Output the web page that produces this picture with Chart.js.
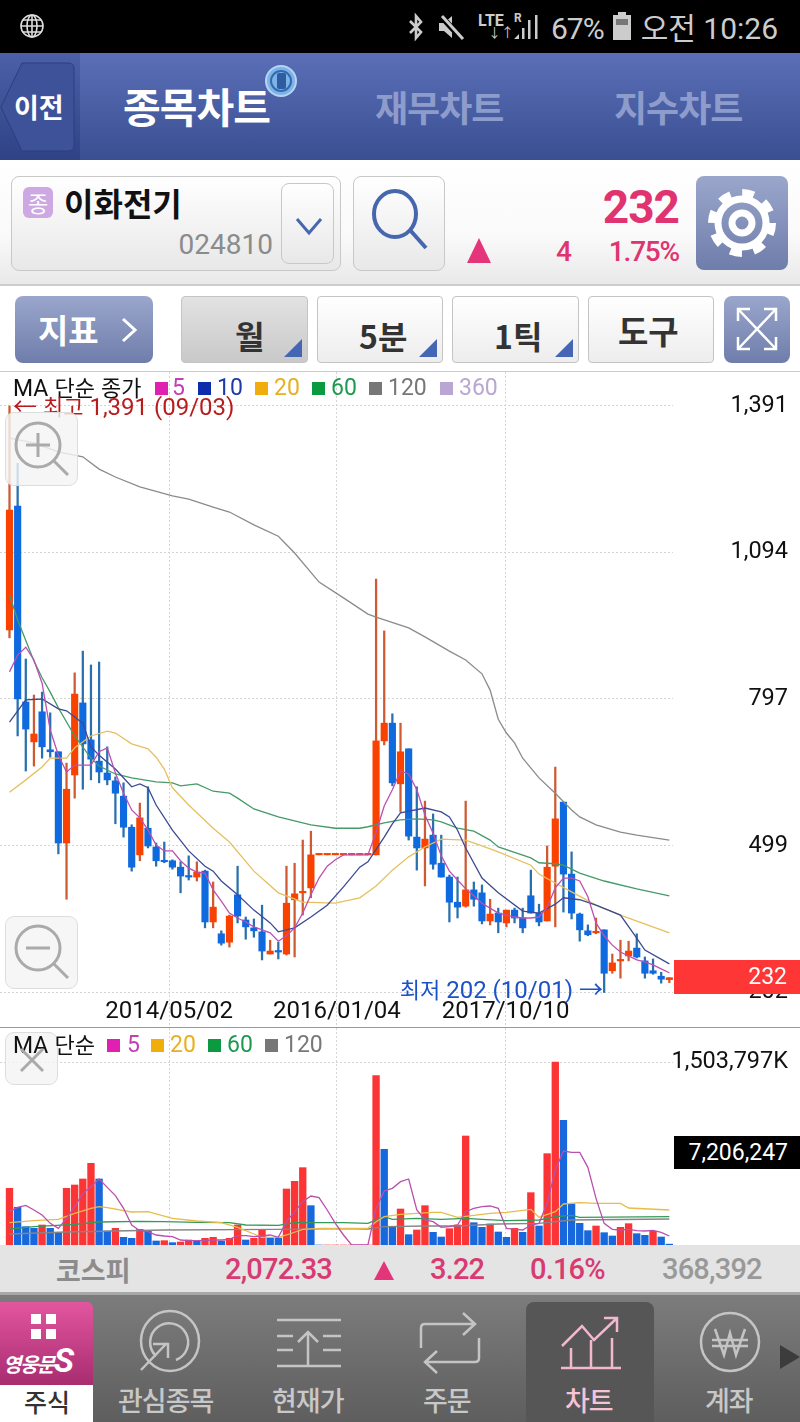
<!DOCTYPE html>
<html lang="ko">
<head>
<meta charset="utf-8">
<title>이화전기 월봉 차트</title>
<script src="https://cdn.jsdelivr.net/npm/chart.js@4"></script>
<style>
html,body{margin:0;padding:0;background:#fff}
body{position:relative;width:800px;height:1422px;overflow:hidden;font-family:Roboto,"Noto Sans CJK KR",sans-serif}
.b{position:absolute;box-sizing:border-box}
.t{position:absolute;white-space:nowrap;transform:translateY(-50%);line-height:1.1}
.k{font-family:"Noto Sans CJK KR",sans-serif}
.bold{font-weight:700}
.btn{background:linear-gradient(#fff,#e8e8e8);border:1px solid #c8c8c8;border-radius:8px}
.tool{background:linear-gradient(#fff,#ededed);border:1px solid #c4c4c4;border-radius:4px;top:296px;height:67px}
.blue{background:linear-gradient(#9aa6cb,#6f7dab);border-radius:8px}
.tri{position:absolute;width:0;height:0;border-left:18px solid transparent;border-bottom:18px solid #4565b5}
.sq{position:absolute;width:13px;height:13px}
canvas{position:absolute;left:0;display:block}
svg{position:absolute;overflow:visible}
.zoomBtn{background:rgba(244,244,244,.82);border:1px solid #ddd;border-radius:9px;z-index:3}
.nav{color:#c8c8c8;font-size:28px;font-weight:500}
</style>
</head>
<body>
<!-- status bar -->
<div class="b" style="left:0;top:0;width:800px;height:53px;background:#000"></div>
<svg style="left:20px;top:14px" width="24" height="24" viewBox="0 0 24 24" fill="none" stroke="#ddd" stroke-width="1.6"><circle cx="12" cy="12" r="11"/><ellipse cx="12" cy="12" rx="5" ry="11"/><path d="M1 12h22M3 6h18M3 18h18M12 1v22"/></svg>
<svg style="left:407px;top:13px" width="18" height="28" viewBox="0 0 18 28" fill="none" stroke="#ccc" stroke-width="2.6"><path d="M3 8l11 11-5 6V3l5 6L3 20"/></svg>
<svg style="left:437px;top:13px" width="28" height="28" viewBox="0 0 28 28"><path d="M2 10h5l8-7v22l-8-7H2z" fill="#ccc"/><path d="M3 2l22 24" stroke="#000" stroke-width="6"/><path d="M5 3l21 23" stroke="#ccc" stroke-width="3"/></svg>
<div class="t bold" style="left:478px;top:21px;font-size:16px;color:#ccc">LTE</div>
<div class="t" style="left:488px;top:33px;font-size:13px;color:#ccc">↓↑</div>
<div class="t bold" style="left:514px;top:19px;font-size:12px;color:#ccc">R</div>
<svg style="left:514px;top:14px" width="28" height="26" viewBox="0 0 28 26" fill="#ccc"><path d="M0 25l5-5v5zM8 25V14h2.500v11zM14 25V6h2.500v19zM21 25V1h2.500v24z"/></svg>
<div class="t" style="left:551px;top:28px;font-size:30px;color:#ccc;letter-spacing:-1px">67%</div>
<svg style="left:612px;top:12px" width="20" height="28" viewBox="0 0 20 28"><path d="M6 0h8v3h5v25H1V3h5z" fill="#ccc"/><rect x="4" y="7" width="12" height="6" fill="#777"/></svg>
<div class="t" style="right:22px;top:27px;font-size:30px;color:#ccc"><span class="k">오전</span> 10:26</div>

<!-- header -->
<div class="b" style="left:0;top:53px;width:800px;height:107px;background:linear-gradient(#5b6fb8,#3a4e91)"></div>
<div class="b" style="left:0;top:53px;width:80px;height:107px;background:linear-gradient(#4b60a8,#2f4285)"></div>
<svg style="left:0;top:62px" width="76" height="90" viewBox="0 0 76 90"><path d="M22 1h46q6 0 6 6v76q0 6-6 6H22L1 45z" fill="#3e5299" stroke="#2d3e7e"/></svg>
<div class="t k bold" style="left:14px;top:107px;font-size:27px;color:#fff">이전</div>
<div class="t k bold" style="left:123px;top:106px;font-size:41px;color:#fff;letter-spacing:-1px">종목차트</div>
<svg style="left:265px;top:65px" width="32" height="32" viewBox="0 0 32 32"><circle cx="16" cy="16" r="15" fill="#7fb3e6" stroke="#b5d6f2" stroke-width="2"/><circle cx="16" cy="16" r="10" fill="none" stroke="#2f6bb0" stroke-width="2"/><rect x="12" y="8" width="9" height="16" rx="2" fill="#2f5ba0"/></svg>
<div class="t k bold" style="left:375px;top:107px;font-size:36px;color:#8e9ccc;letter-spacing:-1px">재무차트</div>
<div class="t k bold" style="left:614px;top:107px;font-size:36px;color:#8e9ccc;letter-spacing:-1px">지수차트</div>

<!-- stock row -->
<div class="b" style="left:0;top:160px;width:800px;height:126px;background:linear-gradient(#fff,#fafafa 60%,#e9e9e9);border-bottom:2px solid #ccc"></div>
<div class="b btn" style="left:11px;top:176px;width:330px;height:95px"></div>
<div class="b k" style="left:23px;top:187px;width:30px;height:31px;border-radius:6px;background:#cda8e2;color:#fff;font-size:22px;text-align:center;line-height:31px">종</div>
<div class="t k bold" style="left:64px;top:203px;font-size:32px;color:#111">이화전기</div>
<div class="t" style="right:527px;top:245px;font-size:28px;color:#8b8b8b">024810</div>
<div class="b btn" style="left:281px;top:183px;width:53px;height:81px"></div>
<svg style="left:295px;top:217px" width="28" height="20" viewBox="0 0 28 20" fill="none" stroke="#4666ae" stroke-width="3"><path d="M2 2l12 14L26 2"/></svg>
<div class="b btn" style="left:353px;top:176px;width:92px;height:95px"></div>
<svg style="left:370px;top:190px" width="58" height="60" viewBox="0 0 58 60" fill="none" stroke="#4666ae" stroke-width="4"><ellipse cx="25" cy="24" rx="21" ry="23"/><path d="M40 40l16 18"/></svg>
<div class="t bold" style="right:121px;top:207px;font-size:46px;color:#e0336f;letter-spacing:-1px">232</div>
<svg style="left:467px;top:238px" width="24" height="25" viewBox="0 0 24 25"><path d="M12 0l12 25H0z" fill="#e5357a"/></svg>
<div class="t" style="left:556px;top:252px;font-size:28px;font-weight:500;color:#e0336f">4</div>
<div class="t" style="right:121px;top:252px;font-size:28px;font-weight:500;color:#e0336f;letter-spacing:-1.200px">1.75%</div>
<div class="b blue" style="left:696px;top:176px;width:92px;height:94px"></div>
<svg style="left:706px;top:186px" width="72" height="74" viewBox="0 0 72 74" fill="none" stroke="#fff"><circle cx="36" cy="37" r="30" stroke-width="8" stroke-dasharray="11.800 11.760"/><circle cx="36" cy="37" r="24" stroke-width="7"/><circle cx="36" cy="37" r="10" stroke-width="7"/></svg>

<!-- tool row -->
<div class="b blue" style="left:15px;top:296px;width:138px;height:67px"></div>
<div class="t k bold" style="left:38px;top:329px;font-size:33px;color:#fff">지표</div>
<svg style="left:121px;top:317px" width="16" height="26" viewBox="0 0 16 26" fill="none" stroke="#fff" stroke-width="3"><path d="M2 2l12 11L2 24"/></svg>
<div class="b tool" style="left:181px;width:127px;background:linear-gradient(#e2e2e2,#c9c9c9)"></div>
<div class="t k bold" style="left:235px;top:336px;font-size:32px;color:#333">월</div>
<div class="tri" style="left:284px;top:339px"></div>
<div class="b tool" style="left:317px;width:126px"></div>
<div class="t k bold" style="left:359px;top:336px;font-size:32px;color:#333">5분</div>
<div class="tri" style="left:419px;top:339px"></div>
<div class="b tool" style="left:452px;width:127px"></div>
<div class="t k bold" style="left:494px;top:336px;font-size:32px;color:#333">1틱</div>
<div class="tri" style="left:555px;top:339px"></div>
<div class="b tool" style="left:588px;width:126px"></div>
<div class="t k bold" style="left:618px;top:330px;font-size:33px;color:#333">도구</div>
<div class="b blue" style="left:724px;top:296px;width:66px;height:67px"></div>
<svg style="left:736px;top:307px" width="42" height="44" viewBox="0 0 42 44" fill="none" stroke="#fff" stroke-width="2.500"><path d="M2 14V2h12M28 2h12v12M40 30v12H28M14 42H2V30M2 2l38 40M40 2L2 42"/></svg>
<div class="b" style="left:0;top:371px;width:800px;height:1px;background:#ccc"></div>

<!-- price chart -->
<canvas id="priceChart" width="800" height="655" style="top:372px"></canvas>
<div class="t k" style="left:13px;top:388px;font-size:22px;color:#111"><span style="font-family:Roboto;font-size:23px">MA</span> 단순 종가</div>
<div class="sq" style="left:155px;top:382px;background:#e020b0"></div><div class="t" style="left:172px;top:388px;font-size:23px;color:#c23fb4">5</div>
<div class="sq" style="left:198px;top:382px;background:#0c2cab"></div><div class="t" style="left:217px;top:388px;font-size:23px;color:#1e3aa6">10</div>
<div class="sq" style="left:255px;top:382px;background:#f0ad0c"></div><div class="t" style="left:274px;top:388px;font-size:23px;color:#e8b020">20</div>
<div class="sq" style="left:312px;top:382px;background:#0c9a40"></div><div class="t" style="left:331px;top:388px;font-size:23px;color:#1e9a50">60</div>
<div class="sq" style="left:369px;top:382px;background:#777"></div><div class="t" style="left:388px;top:388px;font-size:23px;color:#777">120</div>
<div class="sq" style="left:440px;top:382px;background:#b9a6d2"></div><div class="t" style="left:459px;top:388px;font-size:23px;color:#b9a6d2">360</div>
<div class="t" style="left:13px;top:407px;font-size:24px;color:#b81c1c"><span>←</span> <span class="k" style="font-size:22px">최고</span> 1,391 (09/03)</div>
<div class="t" style="right:197px;top:990px;font-size:24px;color:#1c52c8"><span class="k" style="font-size:22px">최저</span> 202 (10/01) →</div>
<div class="b zoomBtn" style="left:5px;top:412px;width:73px;height:74px"></div>
<svg style="left:14px;top:421px;z-index:4" width="56" height="56" viewBox="0 0 56 56" fill="none" stroke="#aaa" stroke-width="3"><circle cx="24" cy="24" r="22"/><path d="M12 24h24M24 12v24M40 40l14 14"/></svg>
<div class="b zoomBtn" style="left:5px;top:916px;width:73px;height:73px"></div>
<svg style="left:14px;top:924px;z-index:4" width="56" height="56" viewBox="0 0 56 56" fill="none" stroke="#aaa" stroke-width="3"><circle cx="24" cy="24" r="22"/><path d="M12 24h24M40 40l14 14"/></svg>
<div class="b" style="left:674px;top:960px;width:126px;height:34px;background:#ff3636;z-index:3"></div>
<div class="t" style="right:13px;top:977px;font-size:23px;color:#fff;z-index:4">232</div>
<div class="b" style="left:0;top:1027px;width:800px;height:1px;background:#999;z-index:3"></div>

<!-- volume chart -->
<canvas id="volumeChart" width="800" height="217" style="top:1028px"></canvas>
<div class="t k" style="left:13px;top:1045px;font-size:22px;color:#111;z-index:4"><span style="font-family:Roboto;font-size:23px">MA</span> 단순</div>
<div class="sq" style="left:107px;top:1039px;background:#e020b0"></div><div class="t" style="left:127px;top:1045px;font-size:23px;color:#c23fb4">5</div>
<div class="sq" style="left:151px;top:1039px;background:#f0ad0c"></div><div class="t" style="left:170px;top:1045px;font-size:23px;color:#e8b020">20</div>
<div class="sq" style="left:208px;top:1039px;background:#0c9a40"></div><div class="t" style="left:227px;top:1045px;font-size:23px;color:#1e9a50">60</div>
<div class="sq" style="left:265px;top:1039px;background:#777"></div><div class="t" style="left:284px;top:1045px;font-size:23px;color:#777">120</div>
<div class="b zoomBtn" style="left:5px;top:1032px;width:53px;height:53px"></div>
<svg style="left:20px;top:1048px;z-index:4" width="24" height="24" viewBox="0 0 24 24" fill="none" stroke="#aaa" stroke-width="3"><path d="M1 1l22 22M23 1L1 23"/></svg>
<div class="b" style="left:674px;top:1136px;width:126px;height:33px;background:#000"></div>
<div class="t" style="right:12px;top:1153px;font-size:23px;color:#fff">7,206,247</div>

<!-- index bar -->
<div class="b" style="left:0;top:1245px;width:800px;height:50px;background:#e4e4e4;border-bottom:3px solid #a8a8a8;z-index:3"></div>
<div style="position:absolute;left:0;top:0;z-index:4">
<div class="t k bold" style="left:56px;top:1270px;font-size:27px;color:#8c8c8c">코스피</div>
<div class="t" style="left:225px;top:1270px;font-size:29px;font-weight:500;color:#d93a72;letter-spacing:-.8px">2,072.33</div>
<svg style="left:374px;top:1261px" width="20" height="19" viewBox="0 0 20 19"><path d="M10 0l10 19H0z" fill="#e5357a"/></svg>
<div class="t" style="left:430px;top:1270px;font-size:29px;font-weight:500;color:#d93a72;letter-spacing:-.8px">3.22</div>
<div class="t" style="left:530px;top:1270px;font-size:29px;font-weight:500;color:#d93a72;letter-spacing:-.8px">0.16%</div>
<div class="t" style="left:662px;top:1270px;font-size:29px;font-weight:500;color:#999;letter-spacing:-.8px">368,392</div>
</div>

<!-- bottom nav -->
<div class="b" style="left:0;top:1295px;width:800px;height:127px;background:linear-gradient(#7c7c7c,#5e5e5e)"></div>
<div class="b" style="left:0;top:1302px;width:93px;height:83px;background:linear-gradient(#e2569f,#a82c70);border-radius:0 6px 0 0"></div>
<svg style="left:31px;top:1314px" width="26" height="26" fill="#fff"><rect width="10" height="10"/><rect x="15" width="10" height="10"/><rect y="15" width="10" height="10"/><rect x="15" y="15" width="10" height="10"/></svg>
<div class="t k bold" style="left:3px;top:1361px;font-size:20px;color:#fff;letter-spacing:-1.500px;font-style:italic">영웅문<span style="font-family:Roboto;font-size:34px">S</span></div>
<div class="b" style="left:0;top:1385px;width:93px;height:37px;background:#fff"></div>
<div class="t k" style="left:24px;top:1402px;font-size:25px;font-weight:500;color:#333">주식</div>
<svg style="left:139px;top:1310px" width="62" height="64" viewBox="0 0 62 64" fill="none" stroke="#c4c4c4" stroke-width="2.500"><ellipse cx="31" cy="31" rx="29" ry="30"/><path d="M17 46a19 19 0 1 1 20 4"/><path d="M2 60l26-27M14 34h15v14"/></svg>
<svg style="left:276px;top:1318px" width="66" height="50" viewBox="0 0 66 50" fill="none" stroke="#c4c4c4" stroke-width="2.500"><path d="M1 2h64M1 18h16M47 18h18M1 32h16M47 32h18M1 48h64M32 48V14M22 24l10-10 10 10"/></svg>
<svg style="left:420px;top:1312px" width="60" height="62" viewBox="0 0 60 62" fill="none" stroke="#c4c4c4" stroke-width="2.500"><path d="M1 36V16q0-4 4-4h50M43 1l12 11-12 11M59 26v20q0 4-4 4H5M17 39L5 50l12 11"/></svg>
<div class="b" style="left:526px;top:1302px;width:128px;height:120px;background:#565656;border-radius:8px 8px 0 0"></div>
<svg style="left:560px;top:1316px" width="62" height="54" viewBox="0 0 62 54" fill="none" stroke="#f2b8cf" stroke-width="2.500"><path d="M1 52h60M11 52V32M31 52V24M52 52V22M2 30l20-20 12 14L56 3M44 2h13v14"/></svg>
<svg style="left:699px;top:1311px" width="62" height="62" viewBox="0 0 62 62" fill="none" stroke="#c4c4c4" stroke-width="2.500"><circle cx="31" cy="31" r="29"/><path d="M16 18l9 26 6-22 6 22 9-26M13 29h36M13 35h36"/></svg>
<svg style="left:780px;top:1345px" width="20" height="24" viewBox="0 0 20 24"><path d="M0 0l20 12L0 24z" fill="#3c3c3c"/></svg>
<div class="t k nav" style="left:118px;top:1400px;font-size:27px;letter-spacing:-1px">관심종목</div>
<div class="t k nav" style="left:272px;top:1400px;font-size:27px;letter-spacing:-1px">현재가</div>
<div class="t k nav" style="left:423px;top:1400px;font-size:27px;letter-spacing:-1px">주문</div>
<div class="t k nav bold" style="left:565px;top:1400px;font-size:27px;color:#f5c2d6;letter-spacing:-1px">차트</div>
<div class="t k nav" style="left:705px;top:1400px;font-size:27px;letter-spacing:-1px">계좌</div>

<script>
// monthly candles
const opens = [937,1188,791,710,771,694,690,505,643,789,
  714,671,647,631,600,537,481,535,497,469,
  469,456,438,436,448,345,321,304,400,349,
  333,325,280,286,280,390,404,414,481,481,
  481,481,481,481,481,481,712,748,625,696,
  517,495,521,464,436,385,377,410,404,347,
  363,343,369,353,398,363,347,458,588,442,
  361,327,323,329,246,266,276,292,266,246,235,228];
const highs = [1391,1275,878,805,811,769,690,667,850,894,
  866,872,700,639,627,542,586,619,505,507,
  471,467,479,467,450,426,327,359,458,355,
  351,379,308,304,458,464,511,529,481,481,
  481,481,481,481,481,1040,935,767,748,696,
  619,590,564,521,440,436,590,426,420,391,
  373,369,373,373,450,381,499,659,588,487,
  363,339,353,329,280,308,306,321,274,270,243,232];
const lows = [921,722,651,661,677,679,483,391,596,614,
  633,627,623,544,517,448,469,495,458,465,
  452,404,430,428,333,333,298,294,343,310,
  314,268,280,270,278,274,359,394,481,481,
  481,481,481,481,481,481,704,621,568,511,
  450,418,452,436,345,353,375,377,341,339,
  323,335,343,323,363,337,347,335,365,351,
  306,317,321,202,241,231,266,272,231,239,221,222];
const closes = [1180,797,736,726,700,690,505,614,807,706,
  675,649,633,606,537,456,556,499,469,467,
  456,438,436,446,345,375,302,357,357,335,
  327,286,286,284,383,402,406,481,481,481,
  481,481,481,481,481,712,748,627,690,519,
  495,513,462,436,385,375,410,391,347,361,
  345,369,353,333,363,345,456,554,442,363,
  329,319,325,241,262,268,286,274,241,241,229,232];

// moving averages: values at the candle numbers where they could be read
const ma5 = [852,886,902,876,829,734,683,649,663,663,
  663,690,698,647,606,572,556,531,501,489,
  489,469,454,446,444,410,387,363,353,345,
  335,329,323,306,317,333,363,400,434,458,
  471,481,481,481,481,527,580,613,651,645,
  613,562,525,479,448,430,412,398,383,373,
  363,359,355,353,353,355,375,414,434,434,
  428,396,343,317,298,284,276,268,264,258,250,242];
const ma10At = [0,2,4,6,7,9,10,11,13,15,16,17,18,20,22,24,25,26,28,30,32,33,35,37,39,41,43,44,46,47,48,51,53,54,55,56,58,60,63,65,67,68,70,72,75,77,78,81];
const ma10 = [750,795,797,777,773,748,700,683,655,619,625,617,582,531,489,458,448,428,400,369,343,325,333,355,379,416,456,467,517,544,566,576,568,558,531,495,434,404,367,363,381,394,390,379,359,312,288,260];
const ma20At = [0,2,4,5,7,8,10,12,13,15,17,18,19,20,22,25,27,30,33,36,40,43,45,47,49,51,53,56,58,60,64,65,67,69,72,75,81];
const ma20 = [608,633,659,677,677,698,722,732,728,706,696,679,655,617,582,535,507,448,404,385,383,394,418,450,477,497,513,511,499,487,460,442,424,406,379,359,323];
const ma60At = [0,1,3,4,5,6,8,10,11,13,15,18,20,21,23,25,27,28,30,33,35,37,40,43,44,46,48,50,52,53,55,57,59,60,64,65,67,68,70,73,77,81];
const ma60 = [1008,957,874,840,811,779,722,677,661,645,637,629,627,621,625,610,606,596,574,558,550,542,535,535,538,546,552,554,552,548,535,529,511,497,475,465,463,460,444,428,412,398];
const ma120At = [0,3,6,9,11,13,16,20,22,25,27,30,33,35,38,41,44,45,49,51,54,56,58,59,60,61,62,63,65,67,69,70,72,75,77,81];
const ma120 = [1326,1316,1298,1288,1263,1247,1227,1209,1202,1186,1176,1150,1127,1093,1034,1002,969,963,941,923,894,876,848,815,756,728,708,677,637,606,572,558,542,527,521,511];

// volume in thousands of shares
const volumes = [465700,309500,150700,137000,164400,137000,95900,465700,493100,542400,
  671100,542400,115000,137000,63000,54800,128700,115000,32900,35600,
  19200,24700,41100,30100,54800,63000,32900,54800,164400,41100,
  54800,128700,63000,57500,460200,523200,635500,323200,0,0,
  0,0,0,0,0,1391500,786200,150700,295800,84900,
  123300,323200,104100,65700,134200,164400,895700,183500,145200,172600,
  106800,63000,137000,104100,430100,156100,750500,1503797,1024500,336900,
  178000,117800,156100,101300,74000,145200,175300,93100,79400,112300,65700,7206];
const volMa5 = [273900,309500,326000,287600,246500,178000,137000,219100,315000,424600,
  479400,542400,473900,405400,301300,164400,117800,109600,82200,74000,
  68500,41100,35600,35600,38300,41100,41100,46600,76700,76700,
  68500,74000,82200,63000,191700,273900,356100,402700,389000,287600,
  178000,82200,0,0,0,301300,443800,465700,520400,542400,
  287600,205400,191700,145200,150700,164400,273900,301300,315000,320500,
  301300,137000,128700,123300,164400,178000,342400,616300,772500,761500,
  761500,638200,383500,178000,128700,123300,128700,117800,115000,120500,104100,74000];
const volMa20At = [0,3,6,8,10,11,12,15,17,20,23,26,28,30,31,33,34,36,38,44,45,46,48,52,53,55,59,61,64,65,67,68,70,72,75,76,81];
const volMa20 = [183500,200000,210900,260200,301300,315000,306800,271200,273900,219100,197200,183500,145200,90400,63000,63000,82200,128700,137000,137000,191700,232800,252000,268400,268400,227400,260200,268400,293100,227400,273900,336900,347900,342400,342400,304000,287600];
const volMa60At = [0,3,8,11,16,19,23,27,29,33,35,41,44,46,47,50,53,56,58,61,65,67,69,70,81];
const volMa60 = [131500,150700,169800,189000,194500,191700,186300,183500,164400,161600,183500,183500,178000,232800,210900,219100,210900,219100,210900,200000,205400,232800,243800,227400,232800];
const volMa120At = [0,7,19,33,41,44,46,51,55,60,65,69,81];
const volMa120 = [90400,106800,123300,128700,134200,131500,150700,156100,156100,172600,178000,205400,213700];

// axis ticks
const priceTicks = [1391,1094,797,499,202];
const volumeTicks = [1503797];
const dateAt = [19.6,40.2,60.9];
const dateLabels = ['2014/05/02','2016/01/04','2017/10/10'];

const RED = '#fa4200', BLUE = '#0f69df';
const RED_WICK = '#cf5a32', BLUE_WICK = '#2a70ad';
const GRID = '#d4d4d4';

const idx = opens.map((_, i) => i);
const pts = (at, vals) => at.map((x, i) => ({x: x, y: vals[i]}));
const maLine = (data, color) => ({type: 'line', data: data, borderColor: color, borderWidth: 1.3, pointRadius: 0, tension: 0, order: 1});

// keep labels from pushing the plot area around
function noPadding(s) {
    s.paddingTop = s.paddingBottom = s.paddingLeft = s.paddingRight = 0;
}

const xAxis = {
    type: 'linear', bounds: 'data', offset: false, min: -1.166, max: 81.45,
    afterBuildTicks: s => { s.ticks = dateAt.map(v => ({value: v})); },
    border: {display: false, dash: [2, 2]},
    grid: {offset: false, color: GRID, tickColor: GRID, tickBorderDash: [2, 2]}
};

function yAxis(ticks, min, max, fmt) {
    return {
        position: 'right', bounds: 'data', min: min, max: max,
        afterBuildTicks: s => { s.ticks = ticks.map(v => ({value: v})); },
        afterFit: s => { s.width = 115; noPadding(s); },
        border: {display: false, dash: [2, 2]},
        grid: {color: GRID, drawTicks: false},
        ticks: {crossAlign: 'far', color: '#111', padding: 0, font: {family: 'Roboto', size: 23.5}, callback: fmt}
    };
}

new Chart(document.getElementById('priceChart'), {
    type: 'bar',
    data: {
        datasets: [
            maLine(pts(idx, ma5), '#bb4fb4'),
            maLine(pts(ma10At, ma10), '#3c4a94'),
            maLine(pts(ma20At, ma20), '#e6c05e'),
            maLine(pts(ma60At, ma60), '#459a68'),
            maLine(pts(ma120At, ma120), '#8b8b8b'),
            {
                // body
                data: idx.map(i => ({x: i, y: [opens[i], closes[i]]})),
                backgroundColor: idx.map(i => closes[i] >= opens[i] ? RED : BLUE),
                barThickness: 6.5, minBarLength: 1.5, order: 2
            },
            {
                // wick
                data: idx.map(i => ({x: i, y: [lows[i], highs[i]]})),
                backgroundColor: idx.map(i => closes[i] >= opens[i] ? RED_WICK : BLUE_WICK),
                barThickness: 1.6, order: 3
            }
        ]
    },
    options: {
        responsive: false, animation: false, devicePixelRatio: 1, grouped: false,
        layout: {padding: {right: 12}},
        plugins: {legend: {display: false}, tooltip: {enabled: false}},
        scales: {
            x: Object.assign({}, xAxis, {
                afterFit: s => { s.height = 32; noPadding(s); },
                grid: Object.assign({}, xAxis.grid, {tickLength: 32}),
                ticks: {
                    autoSkip: false, maxRotation: 0, padding: -29, color: '#111',
                    font: {family: 'Roboto', size: 24},
                    callback: (v, i) => dateLabels[i]
                }
            }),
            y: yAxis(priceTicks, 196.9, 1459.9, v => v.toLocaleString('en-US'))
        }
    }
});

new Chart(document.getElementById('volumeChart'), {
    type: 'bar',
    data: {
        datasets: [
            maLine(pts(idx, volMa5), '#b94fae'),
            maLine(pts(volMa20At, volMa20), '#e8bc48'),
            maLine(pts(volMa60At, volMa60), '#359a58'),
            maLine(pts(volMa120At, volMa120), '#858585'),
            {
                data: idx.map(i => ({x: i, y: volumes[i]})),
                backgroundColor: idx.map(i => i === 0 || volumes[i] >= volumes[i - 1] ? '#fb3535' : '#1668dc'),
                barThickness: 6.7, order: 2
            }
        ]
    },
    options: {
        responsive: false, animation: false, devicePixelRatio: 1, grouped: false,
        layout: {padding: {right: 12}},
        plugins: {legend: {display: false}, tooltip: {enabled: false}},
        scales: {
            x: Object.assign({}, xAxis, {
                afterFit: s => { s.height = 0; noPadding(s); },
                grid: Object.assign({}, xAxis.grid, {drawTicks: false}),
                ticks: {display: false}
            }),
            y: yAxis(volumeTicks, 0, 1783192, v => v.toLocaleString('en-US') + 'K')
        }
    }
});
</script>
</body>
</html>
